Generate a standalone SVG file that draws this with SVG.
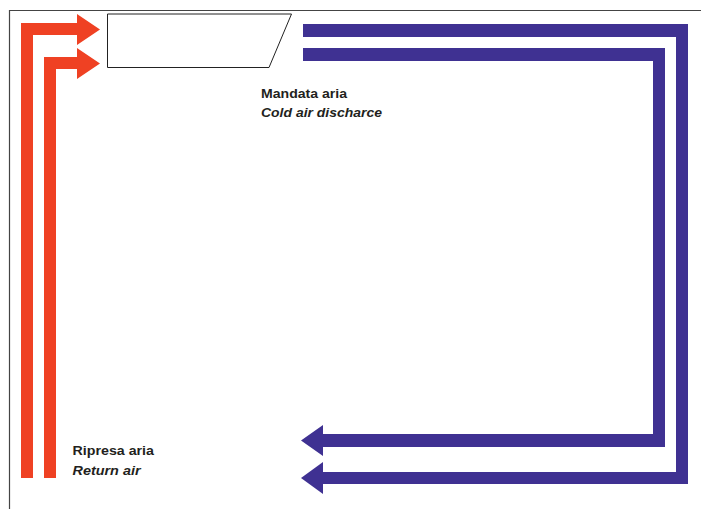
<svg xmlns="http://www.w3.org/2000/svg" width="701" height="509" viewBox="0 0 701 509">
<style>
.frame{fill:none;stroke:#444;stroke-width:1.2}
.red{fill:#ef4123}
.blue{fill:#3f3192}
.lbl{font-family:"Liberation Sans",Arial,sans-serif;font-size:13px;font-weight:bold;fill:#231f20}
.it{font-style:italic}
</style>
<rect width="701" height="509" fill="#fff"/>
<g id="frame">
<path class="frame" d="M9.5,509 L9.5,10.5 L701,10.5"/>
</g>
<g id="unit">
<polygon points="107.5,14 291.5,14 269,67.5 107.5,67.5" fill="#fff" stroke="#222" stroke-width="1"/>
</g>
<g id="connectors">
<path class="red" d="M21,478 L21,23 L77,23 L77,14 L100,29.5 L77,45 L77,35 L33,35 L33,478 Z"/>
<path class="red" d="M44,478 L44,57 L77,57 L77,48 L100,63.5 L77,79 L77,69 L56,69 L56,478 Z"/>
<path class="blue" d="M303,24 L688,24 L688,484 L323,484 L323,494 L301,478 L323,462 L323,472 L676,472 L676,37 L303,37 Z"/>
<path class="blue" d="M303,48 L665,48 L665,447 L323,447 L323,456 L301,440.5 L323,425 L323,434 L653,434 L653,61 L303,61 Z"/>
</g>
<g id="label-mandata">
<text class="lbl" x="261" y="97.5" textLength="86" lengthAdjust="spacingAndGlyphs">Mandata aria</text>
<text class="lbl it" x="261" y="116.5" textLength="121" lengthAdjust="spacingAndGlyphs">Cold air discharce</text>
</g>
<g id="label-ripresa">
<text class="lbl" x="72.5" y="455" textLength="81.5" lengthAdjust="spacingAndGlyphs">Ripresa aria</text>
<text class="lbl it" x="72.5" y="475" textLength="68" lengthAdjust="spacingAndGlyphs">Return air</text>
</g>
</svg>
